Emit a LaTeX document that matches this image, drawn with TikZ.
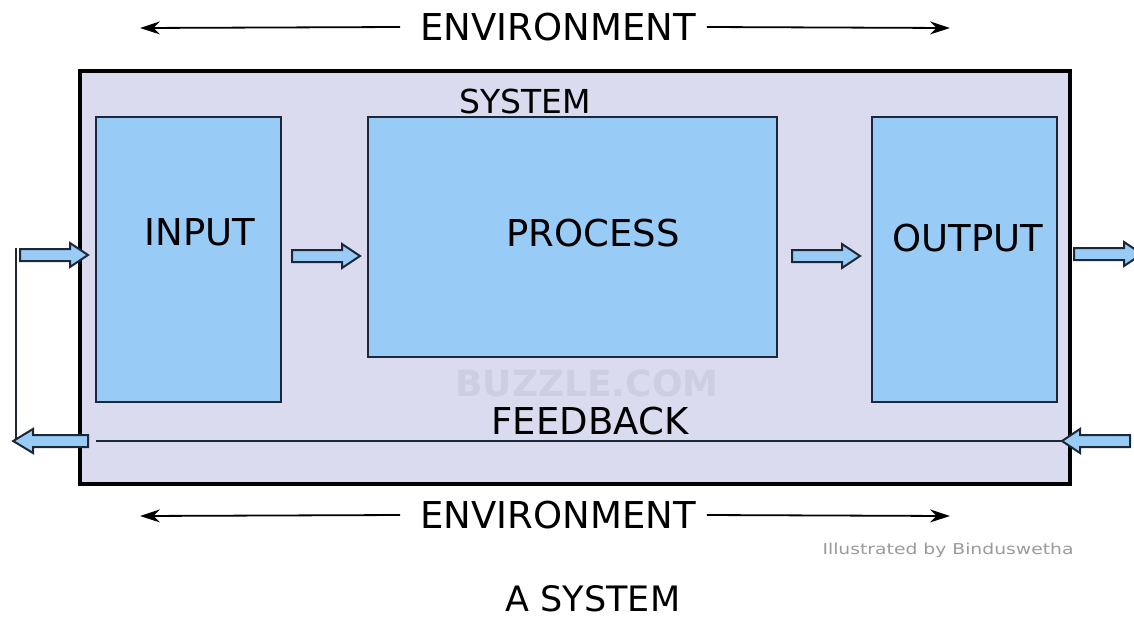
\documentclass[tikz,border=0pt]{standalone}
\usepackage{fontspec}
\setmainfont{DejaVu Sans}
\newfontfamily\creditfont[FakeStretch=1.25]{DejaVu Sans}
\usetikzlibrary{arrows.meta}
\definecolor{envbg}{HTML}{DADBEF}
\definecolor{boxblue}{HTML}{99CBF7}
\definecolor{boxline}{HTML}{1C2838}
\definecolor{markgray}{HTML}{CDCEE1}
\definecolor{creditgray}{HTML}{9A9A9A}
\begin{document}
\begin{tikzpicture}[x=1pt,y=-1pt,
  word/.style={inner sep=0pt, font=\fontsize{37}{37}\selectfont},
  stagebox/.style={draw=boxline, line width=1.5pt, fill=boxblue},
  envarrow/.style={line width=1.8pt, -{Stealth[length=20pt,width=13pt]}},
  blockarrow/.pic={\draw[line width=2pt, draw=boxline, fill=boxblue, line join=miter]
    (0,-6) -- (50,-6) -- (50,-12) -- (68,0) -- (50,12) -- (50,6) -- (0,6) -- cycle;}]
\useasboundingbox (0,0) rectangle (1134,619);
% environment, top
\node[word] (envTop) at (558,27) {ENVIRONMENT};
\coordinate (envTL) at (140,28);
\coordinate (envTR) at (950,28);
\draw[envarrow] ([xshift=-20pt]envTop.west) -- (envTL);
\draw[envarrow] ([xshift=11pt]envTop.east) -- (envTR);
% the system
\node[draw, line width=3.5pt, fill=envbg, minimum width=990pt, minimum height=413pt] (system) at (575,277.5) {};
\node[inner sep=0pt, font=\bfseries\fontsize{36}{36}\selectfont, text=markgray] (mark) at (587,383) {BUZZLE.COM};
\node[word, font=\fontsize{33}{33}\selectfont] (sysLabel) at (525,101) {SYSTEM};
\node[stagebox, minimum width=185pt, minimum height=285pt] (input) at (188.5,259.5) {};
\node[stagebox, minimum width=409pt, minimum height=240pt] (process) at (572.5,237) {};
\node[stagebox, minimum width=185pt, minimum height=285pt] (output) at (964.5,259.5) {};
\node[word] (inText) at (200,232) {INPUT};
\node[word] (procText) at (593,233) {PROCESS};
\node[word] (outText) at (968,238) {OUTPUT};
% feedback
\coordinate (fbL) at (96,441);
\coordinate (fbR) at (1062,441);
\coordinate (loopTop) at (16,248);
\coordinate (loopBot) at (16,443);
\draw[line width=1.5pt, boxline] (fbL) -- (fbR);
\draw[line width=1.5pt, boxline] (loopTop) -- (loopBot);
\node[word] (fbText) at (590,421) {FEEDBACK};
% flow arrows
\pic at (20,255) {blockarrow};
\pic at (292,256) {blockarrow};
\pic at (792,256) {blockarrow};
\pic at (1074,254) {blockarrow};
\pic[rotate=180] at (1130,441) {blockarrow};
\pic[rotate=180, xscale=1.1] at (88,441) {blockarrow};
% environment, bottom
\node[word] (envBot) at (558,515) {ENVIRONMENT};
\coordinate (envBL) at (140,516);
\coordinate (envBR) at (950,516);
\draw[envarrow] ([xshift=-20pt]envBot.west) -- (envBL);
\draw[envarrow] ([xshift=11pt]envBot.east) -- (envBR);
\node[inner sep=0pt, font=\creditfont\fontsize{15}{15}\selectfont, text=creditgray] (credit) at (948,550) {Illustrated by Binduswetha};
\node[word, font=\fontsize{35}{35}\selectfont] (title) at (593,599) {A SYSTEM};
\end{tikzpicture}
\end{document}
